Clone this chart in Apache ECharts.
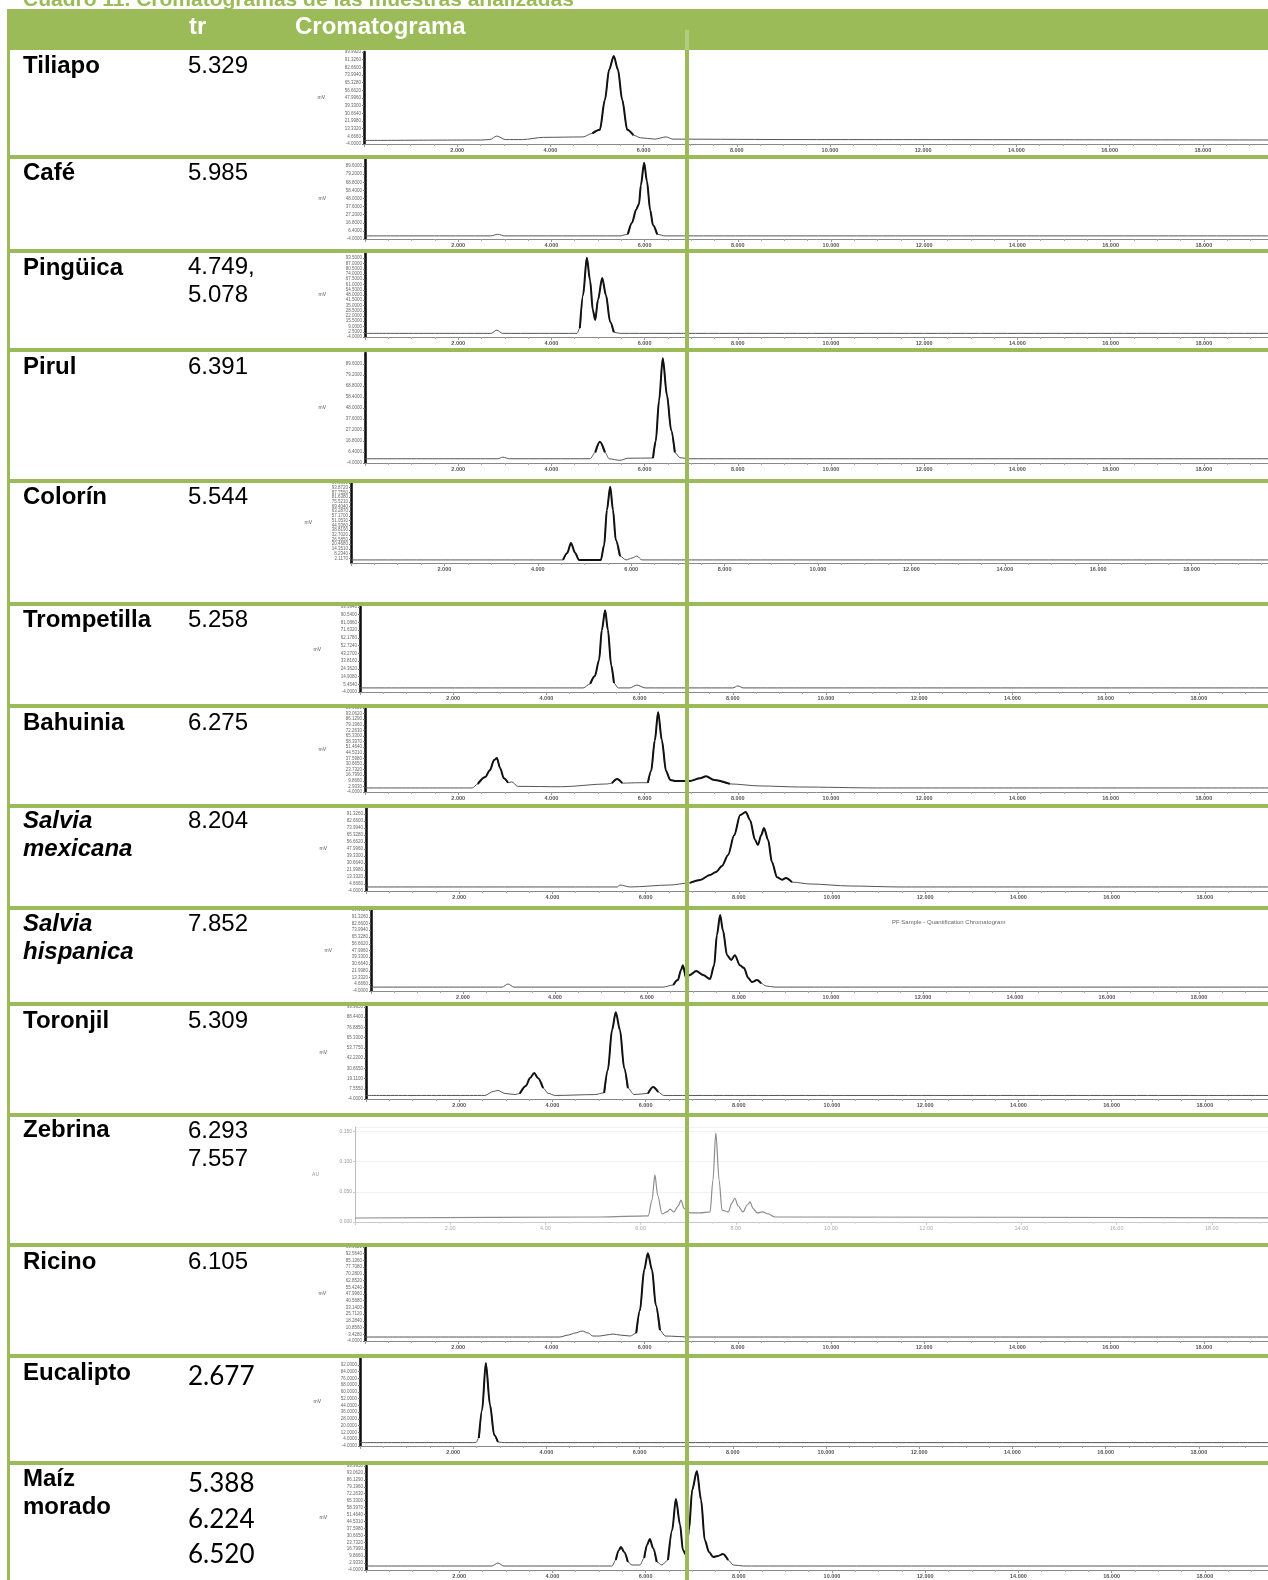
<!DOCTYPE html>
<html><head><meta charset="utf-8">
<script src="https://cdn.jsdelivr.net/npm/echarts@6/dist/echarts.min.js"></script>
<style>html,body{margin:0;padding:0;background:#fff}#c{width:1268px;height:1580px}</style>
</head><body><div id="c"></div>
<script>
// ---------- table text ----------
const titleText = 'Cuadro 11. Cromatogramas de las muestras analizadas';
const headerLabels = ['tr', 'Cromatograma'];
const sampleNames = [['Tiliapo'],['Café'],['Pingüica'],['Pirul'],['Colorín'],['Trompetilla'],['Bahuinia'],
  ['Salvia','mexicana'],['Salvia','hispanica'],['Toronjil'],['Zebrina'],['Ricino'],['Eucalipto'],['Maíz','morado']];
const retentionTimes = [['5.329'],['5.985'],['4.749,','5.078'],['6.391'],['5.544'],['5.258'],['6.275'],
  ['8.204'],['7.852'],['5.309'],['6.293','7.557'],['6.105'],['2.677'],['5.388','6.224','6.520']];

// ---------- chromatogram data: [time (min), relative signal] ----------
const tiliapo = [[0,0],[2.5,0.5],[2.7,1],[2.85,5],[3.03,1],[3.4,1],[3.85,3.5],[4.7,4],[4.9,8],[5.06,12],[5.17,46],[5.26,80],[5.36,95.5],[5.45,80],[5.54,46],[5.65,12],[5.78,6],[5.94,3],[6.24,1.5],[6.48,4],[6.63,1.5],[9.4,1],[20,0.5]];
const cafe = [[0,0],[2.7,0],[2.85,2],[3.0,0],[5.47,0],[5.64,2],[5.73,17],[5.82,34],[5.88,41],[5.92,65],[5.99,94],[6.05,70],[6.12,33],[6.18,14],[6.27,2],[6.44,0],[20,0]];
const pinguica = [[0,0.5],[2.7,0.5],[2.83,4.5],[2.95,0.5],[4.55,0.5],[4.61,7],[4.68,48],[4.76,94],[4.83,66],[4.89,29],[4.94,17],[5.0,42],[5.09,69],[5.17,48],[5.26,15],[5.34,2],[5.47,0.5],[20,0.5]];
const pirul = [[0,0],[2.85,0],[2.96,1.5],[3.1,0],[4.83,0],[4.94,6],[5.04,16],[5.15,6],[5.24,0],[5.47,-1.5],[5.64,0.5],[6.18,0.7],[6.24,17],[6.31,55],[6.39,95],[6.48,60],[6.57,27],[6.65,6],[6.76,1],[6.97,0],[20,0]];
const colorin = [[0,0],[4.54,0],[4.63,9],[4.71,22],[4.80,9],[4.88,0],[5.35,0],[5.42,19],[5.48,65],[5.55,95],[5.61,65],[5.67,26],[5.76,5],[5.89,0],[6.02,2.5],[6.12,5],[6.23,0],[20,0]];
const trompetilla = [[0,1],[4.79,1],[4.94,6],[5.04,15.5],[5.13,35],[5.19,72],[5.26,96],[5.32,72],[5.39,29],[5.45,7],[5.54,1],[5.79,1],[5.94,4.5],[6.12,1],[8.0,1],[8.11,3.5],[8.22,1],[20,1]];
const bahuinia = [[0,1],[2.30,1],[2.42,6],[2.58,14.5],[2.68,23],[2.77,35.5],[2.83,38],[2.90,25.5],[2.98,13],[3.07,7.5],[3.15,8.5],[3.28,3],[4.2,2.5],[5.2,6],[5.30,7],[5.41,12],[5.52,7],[5.90,7.5],[6.07,7.5],[6.14,22],[6.22,60],[6.29,95],[6.37,60],[6.46,22],[6.55,11],[6.67,9.5],[6.97,9.5],[7.19,13],[7.32,15.5],[7.49,11],[7.83,6],[8.48,3.5],[9.33,2.2],[11,1],[20,1]];
const salviaMexicana = [[0,1],[5.39,1],[5.45,3.4],[5.67,1],[6.52,3.4],[6.95,6],[7.17,9.6],[7.38,15.8],[7.51,19.5],[7.64,27],[7.77,40.6],[7.90,65],[8.03,90],[8.15,93.8],[8.24,84],[8.35,59],[8.41,53],[8.48,65],[8.54,74],[8.63,59],[8.71,32],[8.82,13],[8.93,10],[9.01,12],[9.14,7],[9.53,4.7],[10.39,2.2],[11.46,1],[20,1]];
const salviaHispanica = [[0,1],[2.85,1],[2.98,5],[3.11,1],[6.35,1],[6.57,3.7],[6.67,10],[6.74,23],[6.78,29],[6.85,12.7],[6.93,16.5],[7.07,21.7],[7.22,16.5],[7.37,11.4],[7.46,29],[7.52,68],[7.59,93.6],[7.65,74],[7.74,42],[7.83,35.8],[7.91,42],[8.02,29],[8.11,25.5],[8.20,12.7],[8.28,7.5],[8.39,10],[8.48,6],[8.59,2.4],[8.78,1],[20,1]];
const toronjil = [[0,0],[2.55,0],[2.73,4.5],[2.83,5.7],[2.98,2.3],[3.20,1],[3.30,2.3],[3.43,10.7],[3.52,19.7],[3.61,25.4],[3.69,19.7],[3.80,8.4],[3.91,2.3],[4.06,0],[4.91,1],[5.11,3],[5.19,28.8],[5.28,74],[5.36,94],[5.45,74],[5.54,31],[5.62,8.4],[5.75,1],[6.05,2.3],[6.16,9.6],[6.27,3.9],[6.39,0],[20,0]];
const zebrina = [[0,0.4],[5.15,1.5],[6.16,2.6],[6.24,20],[6.30,47.5],[6.36,25],[6.45,4.8],[6.55,7],[6.62,10],[6.70,7],[6.79,13.5],[6.85,20],[6.91,11],[7.04,5.9],[7.25,5.9],[7.46,7],[7.52,42],[7.58,93.5],[7.65,42],[7.71,9],[7.84,7],[7.92,17],[7.98,22],[8.05,13.5],[8.15,7],[8.24,14.6],[8.30,18],[8.36,11],[8.45,5.9],[8.57,7],[8.68,4.8],[8.82,1.5],[20,0.5]];
const ricino = [[0,0.4],[4.18,0.4],[4.36,2.6],[4.51,4.8],[4.66,7],[4.79,4.8],[4.89,1.5],[5.04,1.5],[5.17,2.6],[5.32,3.7],[5.47,2.6],[5.69,1.5],[5.82,4.8],[5.90,30],[5.99,74.5],[6.07,93],[6.16,74.5],[6.24,35.8],[6.33,8],[6.44,1.5],[7,0.4],[20,0.4]];
const eucalipto = [[0,0],[2.49,0],[2.55,5.5],[2.62,38.5],[2.70,94],[2.79,44.5],[2.88,9],[2.96,0.7],[3.1,0],[20,0]];
const maizMorado = [[0,0],[2.7,0],[2.83,3],[2.96,0],[5.28,0],[5.36,6],[5.43,16],[5.47,19],[5.54,14],[5.62,4],[5.71,1],[5.88,1],[5.97,8],[6.03,21],[6.09,27],[6.16,18],[6.24,4],[6.35,1],[6.48,6],[6.57,36],[6.65,67],[6.74,41],[6.80,16],[6.87,11],[6.93,36],[7.00,76],[7.10,95],[7.19,66],[7.27,26],[7.36,14],[7.45,9],[7.55,10],[7.66,12],[7.77,6],[7.88,1],[8.1,0],[20,0]];
const chromatograms = [tiliapo, cafe, pinguica, pirul, colorin, trompetilla, bahuinia, salviaMexicana, salviaHispanica, toronjil, zebrina, ricino, eucalipto, maizMorado];
const xTickStep = 2;           // minutes between x labels
const yRange = [-4, 100];      // relative signal range of every plot
const yTickCounts = [13, 11, 17, 11, 18, 12, 16, 13, 13, 10, 4, 15, 14, 16];
const peakThreshold = 9;       // signal above which the trace is drawn heavy

// ---------- layout (pixels) ----------
const W = 1268, H = 1580;
const GREEN = '#9BBB59';
const plotBoxes = [ // axisX: y-axis position, top/axisY: plot top & x-axis line, ppm: px per minute
  {axisX:364, top:52,   axisY:144,  ppm:46.6},
  {axisX:365, top:158,  axisY:239,  ppm:46.6},
  {axisX:365, top:253,  axisY:337,  ppm:46.6},
  {axisX:365, top:353,  axisY:463,  ppm:46.6},
  {axisX:351, top:483,  axisY:563,  ppm:46.7},
  {axisX:360, top:607,  axisY:692,  ppm:46.6},
  {axisX:365, top:708,  axisY:792,  ppm:46.6},
  {axisX:366, top:807,  axisY:891,  ppm:46.6},
  {axisX:371, top:910,  axisY:991,  ppm:46.0},
  {axisX:366, top:1007, axisY:1099, ppm:46.6},
  {axisX:355, top:1127, axisY:1222, ppm:47.6},
  {axisX:365, top:1247, axisY:1341, ppm:46.6},
  {axisX:360, top:1358, axisY:1446, ppm:46.6},
  {axisX:366, top:1466, axisY:1570, ppm:46.6}
];
const greyStyleRow = 10;
const rowTextY = [66, 173, 268, 367, 497, 620, 723, 821, 924, 1021, 1130, 1262, 1373, 1479];
const trTextY  = [66, 173, 267, 367, 497, 620, 723, 821, 924, 1021, 1131, 1262, 1377, 1484];
const separatorsY = [157, 251, 350, 481, 604, 706, 806, 908, 1004, 1115, 1245, 1356, 1463];
const italicRows = [7, 8];
const calibriRows = [12, 13];

const FONT = '"Liberation Sans", Arial, sans-serif';
const grids = [], xAxes = [], yAxes = [], series = [];
chromatograms.forEach((d, i) => {
  const b = plotBoxes[i];
  const grey = i === greyStyleRow;
  grids.push({left: b.axisX, top: b.top, height: b.axisY - b.top, right: 0, containLabel: false, outerBoundsMode: 'none'});
  xAxes.push({
    gridIndex: i, type: 'value', min: 0, max: (W - b.axisX) / b.ppm, interval: xTickStep,
    axisLine: {onZero: false, lineStyle: {color: grey ? '#c8c8c8' : '#8a8a8a', width: 1}},
    axisTick: {length: 3, lineStyle: {color: grey ? '#ccc' : '#999'}},
    minorTick: {show: true, splitNumber: 4, length: 2, lineStyle: {color: grey ? '#ddd' : '#aaa'}},
    splitLine: {show: false},
    axisLabel: {fontSize: 5.5, fontFamily: FONT, fontWeight: grey ? 'normal' : 'bold', color: grey ? '#aaa' : '#555', margin: 3,
      showMinLabel: false, showMaxLabel: false, formatter: v => grey ? v.toFixed(2) : v.toFixed(3)}
  });
  const n = yTickCounts[i];
  const step = grey ? 33 : Math.floor((yRange[1] - yRange[0]) / (n - 1) * 1000) / 1000;
  yAxes.push({
    gridIndex: i, type: 'value', min: yRange[0], max: yRange[1], interval: step,
    axisLine: {show: true, onZero: false, lineStyle: {color: grey ? '#bbb' : '#111', width: grey ? 1 : 2.6}},
    axisTick: {show: true, length: 2, lineStyle: {color: grey ? '#ccc' : '#777'}},
    splitLine: {show: grey, lineStyle: {color: '#f1f1f1'}},
    axisLabel: {fontSize: grey ? 5 : 4.5, fontFamily: FONT, color: grey ? '#999' : '#666', margin: 3, showMaxLabel: false,
      formatter: v => grey ? ((v - yRange[0]) / 99 * 0.15).toFixed(3) : v.toFixed(4)},
    name: grey ? 'AU' : 'mV', nameLocation: 'middle', nameRotate: 0, nameGap: grey ? 36 : 39,
    nameTextStyle: {fontSize: 5, fontFamily: FONT, color: grey ? '#999' : '#555'}
  });
  // thin full trace
  series.push({
    type: 'line', xAxisIndex: i, yAxisIndex: i, data: d, showSymbol: false, symbol: 'none',
    smooth: 0.3, smoothMonotone: 'x', silent: true, clip: true, z: 2,
    lineStyle: {width: grey ? 1.2 : 1, color: grey ? '#8c8c8c' : '#555'}
  });
  if (!grey) {
    // heavy stroke over the peaks (same points, baseline stretches left out)
    const heavy = d.map((p, k) => {
      const near = [d[k - 1], p, d[k + 1]].some(q => q && q[1] >= peakThreshold);
      return near ? p : [p[0], null];
    });
    series.push({
      type: 'line', xAxisIndex: i, yAxisIndex: i, data: heavy, showSymbol: false, symbol: 'none',
      smooth: 0.3, smoothMonotone: 'x', silent: true, clip: true, connectNulls: false, z: 3,
      lineStyle: {width: 2, color: '#111'}
    });
  }
});

// ---------- table graphics ----------
const g = [];
g.push({type: 'text', x: 23, y: 0, z: 20, style: {text: titleText, fill: GREEN, font: 'bold 21px ' + FONT, textVerticalAlign: 'middle'}});
g.push({type: 'rect', shape: {x: 7, y: 9, width: W - 7, height: 41}, z: 20, style: {fill: GREEN}});
g.push({type: 'text', x: 189, y: 27, z: 21, style: {text: headerLabels[0], fill: '#fff', font: 'bold 24px ' + FONT, textVerticalAlign: 'middle'}});
g.push({type: 'text', x: 295, y: 27, z: 21, style: {text: headerLabels[1], fill: '#fff', font: 'bold 24px ' + FONT, textVerticalAlign: 'middle'}});
g.push({type: 'rect', shape: {x: 7, y: 9, width: 3, height: H - 9}, z: 20, style: {fill: GREEN}});
separatorsY.forEach(y => g.push({type: 'rect', shape: {x: 7, y: y - 2, width: W - 7, height: 4}, z: 20, style: {fill: GREEN}}));
g.push({type: 'rect', shape: {x: 685, y: 30, width: 4, height: 20}, z: 22, style: {fill: '#b2cb7f'}});
g.push({type: 'rect', shape: {x: 685, y: 50, width: 4, height: H - 50}, z: 22, style: {fill: GREEN}});
sampleNames.forEach((lines, i) => {
  const font = (italicRows.includes(i) ? 'italic ' : '') + 'bold 24px ' + FONT;
  lines.forEach((t, k) => g.push({type: 'text', x: 23, y: rowTextY[i] + k * 28, z: 21,
    style: {text: t, fill: '#000', font: font, textVerticalAlign: 'middle'}}));
});
retentionTimes.forEach((lines, i) => {
  const cal = calibriRows.includes(i);
  const font = cal ? '26px Lato, "Open Sans", sans-serif' : '24px ' + FONT;
  const gap = cal ? 35.5 : 28;
  lines.forEach((t, k) => g.push({type: 'text', x: 188, y: trTextY[i] + k * gap, z: 21,
    style: {text: t, fill: '#000', font: font, textVerticalAlign: 'middle'}}));
});
g.push({type: 'text', x: 892, y: 922, z: 21, style: {text: 'PF Sample - Quantification Chromatogram', fill: '#666', font: '6px ' + FONT, textVerticalAlign: 'middle'}});

const chart = echarts.init(document.getElementById('c'), null, {renderer: 'canvas', width: W, height: H});
chart.setOption({
  animation: false,
  backgroundColor: '#fff',
  grid: grids, xAxis: xAxes, yAxis: yAxes, series: series,
  graphic: {elements: g}
});
</script></body></html>
